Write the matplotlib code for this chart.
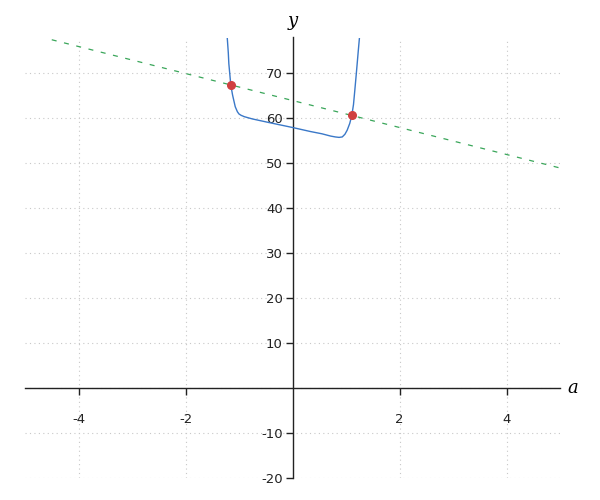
import matplotlib
matplotlib.use("Agg")
import matplotlib.pyplot as plt

# Curve values
curve_x = [-1.22, -1.20, -1.19, -1.17, -1.153, -1.12, -1.07, -1.03, -1.00, -0.96,
           -0.90, -0.75, -0.44, -0.2, 0.0, 0.336, 0.55, 0.71, 0.80, 0.87,
           0.93, 0.98, 1.022, 1.07, 1.109, 1.14, 1.165, 1.19, 1.209, 1.23, 1.252]
curve_y = [77.9, 74.5, 72.1, 69.5, 67.3, 65.1, 62.5, 61.4, 60.9, 60.6,
           60.3, 59.8, 59.0, 58.4, 57.9, 57.0, 56.5, 56.0, 55.8, 55.7,
           55.8, 56.4, 57.3, 58.8, 60.6, 63.0, 66.2, 69.5, 72.1, 75.0, 77.9]

# Dashed line end points
line_x = [-4.5, 5.0]
line_y = [77.4, 48.9]

# Intersection points
pts_x = [-1.155, 1.105]
pts_y = [67.4, 60.6]

x_ticks = [-4, -2, 2, 4]
y_ticks = [-20, -10, 10, 20, 30, 40, 50, 60, 70]

fig = plt.figure(figsize=(6, 5), dpi=100)
ax = fig.add_axes([25/600, 1 - 478/500, 535/600, (478 - 37.5)/500])
ax.set_xlim(-5, 5)
ax.set_ylim(-20, 77.9)

ax.spines['left'].set_position(('data', 0))
ax.spines['bottom'].set_position(('data', 0))
ax.spines['right'].set_visible(False)
ax.spines['top'].set_visible(False)
for s in ('left', 'bottom'):
    ax.spines[s].set_color('#222222')
    ax.spines[s].set_linewidth(1.0)

ax.set_xticks(x_ticks)
ax.set_yticks(y_ticks)
ax.set_xticklabels([str(v) for v in x_ticks])
ax.set_yticklabels([str(v) for v in y_ticks])
ax.tick_params(axis='x', direction='out', length=5, width=1, pad=13,
               labelsize=9.5, colors='#222222')
ax.tick_params(axis='y', direction='out', length=5, width=1, pad=2,
               labelsize=9.5, colors='#222222')

# grid
for xv in x_ticks:
    ax.axvline(xv, color='#c8c8c8', lw=0.8, ls=(0, (1, 3)), zorder=0)
for yv in y_ticks + [0]:
    ax.axhline(yv, color='#c8c8c8', lw=0.8, ls=(0, (1, 3)), zorder=0)

ax.plot(line_x, line_y, color='#3aa65a', lw=0.9, dashes=(4, 6.1), zorder=2)
ax.plot(curve_x, curve_y, color='#3a78c8', lw=1.0, zorder=3, clip_on=True)
ax.plot(pts_x, pts_y, 'o', color='#d04040', ms=5.5, zorder=4)

ax.text(5.13, 0, 'a', fontsize=13, family='DejaVu Serif', style='italic',
        va='center', ha='left', clip_on=False)
ax.text(0, 79.6, 'y', fontsize=13, family='DejaVu Serif', style='italic',
        va='bottom', ha='center', clip_on=False)

fig.savefig('out.png', dpi=100)
